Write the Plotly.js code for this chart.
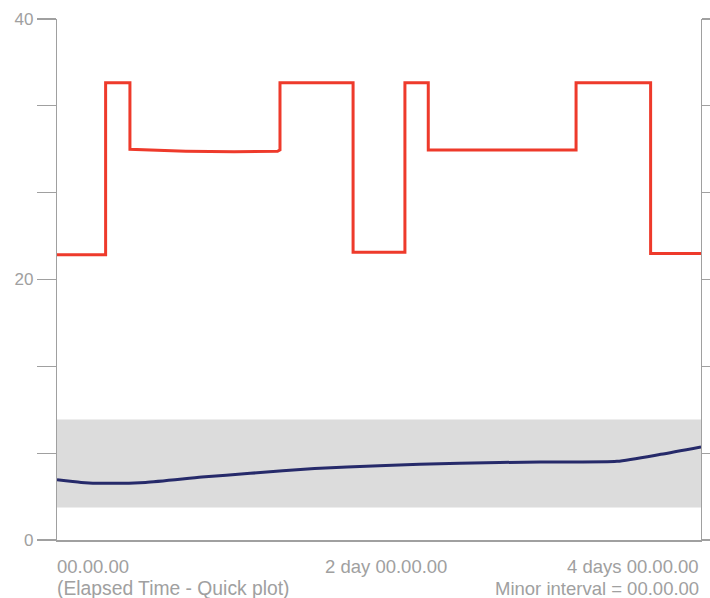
<!DOCTYPE html>
<html>
<head>
<meta charset="utf-8">
<script src="https://cdn.plot.ly/plotly-3.0.1.min.js"></script>
<style>html,body{margin:0;padding:0;background:#fff;}#chart{width:710px;height:598px;}</style>
</head>
<body>
<div id="chart"></div>
<script>
// Red step series (days, value)
const redX = [0, 0.302, 0.302, 0.453, 0.453, 0.8, 1.1, 1.37, 1.385, 1.385, 1.839, 1.839, 2.161, 2.161, 2.306, 2.306, 3.224, 3.224, 3.687, 3.687, 4.0];
const redY = [21.9, 21.9, 35.1, 35.1, 30.0, 29.85, 29.8, 29.85, 29.95, 35.1, 35.1, 22.1, 22.1, 35.1, 35.1, 29.95, 29.95, 35.1, 35.1, 22.0, 22.0];
// Blue smooth series
const blueX = [0, 0.15, 0.3, 0.55, 0.9, 1.2, 1.6, 2.0, 2.5, 3.0, 3.478, 3.75, 4.0];
const blueY = [4.62, 4.42, 4.35, 4.42, 4.83, 5.12, 5.48, 5.7, 5.9, 5.99, 6.04, 6.58, 7.15];
// Gray band limits
const bandLow = 2.5;
const bandHigh = 9.25;
// Axis ticks
const yTickVals = [0, 20/3, 40/3, 20, 80/3, 100/3, 40];
const yTickText = ['0', '', '', '20', '', '', '40'];
const xLabels = ['00.00.00', '2 day 00.00.00', '4 days 00.00.00'];
const xLabelPos = [0, 2, 4];
const subLeft = '(Elapsed Time - Quick plot)';
const subRight = 'Minor interval = 00.00.00';

const gray = '#a0a0a0';
const font = {family: 'Liberation Sans, Arial, sans-serif', size: 17, color: gray};
const xfont = {family: 'Liberation Sans, Arial, sans-serif', size: 18.5, color: gray};
const subfont = {family: 'Liberation Sans, Arial, sans-serif', size: 19.3, color: gray};

const traces = [
  {x: redX, y: redY, type: 'scatter', mode: 'lines', line: {color: '#ee3a2b', width: 3}, hoverinfo: 'skip'},
  {x: blueX, y: blueY, type: 'scatter', mode: 'lines', line: {color: '#262a6a', width: 3, shape: 'spline', smoothing: 0.6}, hoverinfo: 'skip'}
];

const annotations = [
  {x: xLabelPos[0], y: 0, xref: 'x', yref: 'paper', text: xLabels[0], xanchor: 'left', yanchor: 'middle', yshift: -26, xshift: -2, showarrow: false, font: xfont},
  {x: xLabelPos[1], y: 0, xref: 'x', yref: 'paper', text: xLabels[1], xanchor: 'center', yanchor: 'middle', yshift: -26, xshift: 7, showarrow: false, font: xfont},
  {x: xLabelPos[2], y: 0, xref: 'x', yref: 'paper', text: xLabels[2], xanchor: 'right', yanchor: 'middle', yshift: -26, showarrow: false, font: xfont},
  {x: xLabelPos[0], y: 0, xref: 'x', yref: 'paper', text: subLeft, xanchor: 'left', yanchor: 'middle', yshift: -48, xshift: -2, showarrow: false, font: subfont},
  {x: xLabelPos[2], y: 0, xref: 'x', yref: 'paper', text: subRight, xanchor: 'right', yanchor: 'middle', yshift: -48, showarrow: false, font: xfont}
];

const layout = {
  width: 710, height: 598,
  margin: {l: 57, r: 9, t: 19, b: 57.5, pad: 0},
  paper_bgcolor: '#fff', plot_bgcolor: '#fff',
  showlegend: false,
  font: font,
  xaxis: {range: [0, 4], showgrid: false, zeroline: false, showticklabels: false, ticks: '',
          showline: true, linecolor: gray, linewidth: 1.5, fixedrange: true},
  yaxis: {range: [0, 40], showgrid: false, zeroline: false, tickmode: 'array', tickvals: yTickVals, ticktext: yTickText,
          ticks: 'outside', ticklen: 19, tickcolor: gray, tickwidth: 1.2, showline: true, linecolor: gray, linewidth: 1.2,
          mirror: 'ticks', tickfont: font, fixedrange: true},
  shapes: [
    {type: 'rect', xref: 'paper', yref: 'y', x0: 0, x1: 1, y0: bandLow, y1: bandHigh, fillcolor: '#dcdcdc', line: {width: 0}, layer: 'below'}
  ],
  annotations: annotations
};

Plotly.newPlot('chart', traces, layout, {displayModeBar: false, staticPlot: true});
</script>
</body>
</html>
